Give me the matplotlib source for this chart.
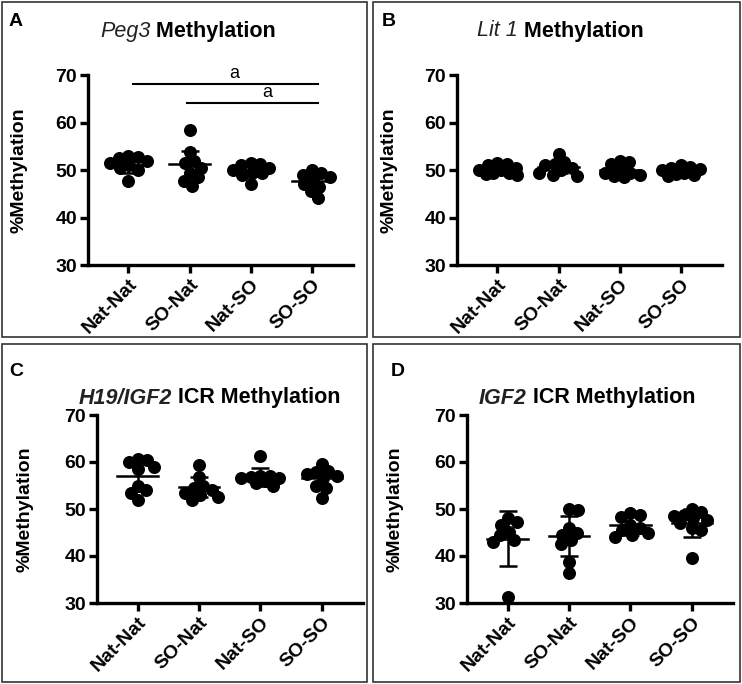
import numpy as np
import matplotlib
matplotlib.use("Agg")
import matplotlib.pyplot as plt
from matplotlib.patches import Rectangle
from matplotlib.offsetbox import TextArea, HPacker, AnchoredOffsetbox

plt.rcParams['font.family'] = ['Liberation Sans', 'DejaVu Sans']

groups = ["Nat-Nat", "SO-Nat", "Nat-SO", "SO-SO"]

# %Methylation per animal
peg3 = [
    [53.0, 52.8, 52.5, 52.0, 51.5, 51.0, 50.5, 50.0, 47.7],
    [58.5, 53.8, 52.0, 51.5, 50.5, 49.5, 48.5, 47.8, 46.7],
    [51.5, 51.2, 51.0, 50.5, 50.0, 49.5, 49.3, 49.0, 47.1],
    [50.0, 49.5, 49.0, 48.5, 48.0, 47.0, 46.5, 45.5, 44.2],
]
lit1 = [
    [51.5, 51.3, 51.0, 50.5, 50.0, 50.0, 49.5, 49.5, 49.2, 49.0],
    [53.5, 51.8, 51.3, 51.0, 50.5, 50.0, 49.5, 49.0, 48.8],
    [52.0, 51.7, 51.2, 50.0, 49.5, 49.5, 49.0, 48.7, 48.5],
    [51.0, 50.7, 50.5, 50.3, 50.0, 49.5, 49.2, 49.0, 48.8],
]
h19 = [
    [60.7, 60.5, 60.0, 59.0, 58.5, 55.0, 54.0, 53.5, 52.0],
    [59.3, 56.8, 55.0, 54.5, 54.0, 53.5, 53.0, 52.5, 52.0],
    [61.2, 57.0, 57.0, 56.8, 56.5, 56.5, 56.0, 55.5, 55.0],
    [59.5, 58.0, 57.8, 57.5, 57.0, 56.5, 55.0, 54.5, 52.3],
]
igf2 = [
    [48.0, 47.3, 46.5, 45.2, 44.5, 43.5, 43.0, 31.2],
    [50.0, 49.8, 46.0, 45.0, 44.5, 43.5, 42.5, 38.8, 36.3],
    [49.2, 48.7, 48.3, 46.5, 46.0, 45.5, 45.0, 44.5, 44.0],
    [50.0, 49.3, 48.8, 48.5, 48.0, 47.7, 47.0, 46.0, 45.5, 39.5],
]

# mean and SD as shown by the bars
peg3_mean = [51.0, 51.2, 50.0, 47.8]
peg3_sd = [1.5, 2.9, 1.2, 1.8]
lit1_mean = [50.5, 50.6, 50.0, 50.0]
lit1_sd = [0.8, 1.2, 1.2, 0.7]
h19_mean = [57.0, 54.7, 56.9, 56.5]
h19_sd = [3.2, 2.2, 1.9, 2.0]
igf2_mean = [43.7, 44.2, 46.5, 47.0]
igf2_sd = [5.8, 4.3, 2.0, 3.0]

W, H = 742, 684
fig = plt.figure(figsize=(W / 100, H / 100), dpi=100)


def px_rect(l, t, r, b):
    return [l / W, 1 - b / H, (r - l) / W, (b - t) / H]


def swarm(ax, x0, vals, dmin, cap=20.0):
    """ compact beeswarm: offsets within +-cap px, dots ideally dmin px apart """
    pts = [ax.transData.transform((x0, v)) for v in vals]
    order = np.argsort([-p[1] for p in pts])
    cands = np.arange(0, cap + 0.25, 0.5)
    cands = np.concatenate([[0.0], np.ravel(np.column_stack([cands[1:], -cands[1:]]))])
    placed = []
    xs = np.zeros(len(vals))
    for k in order:
        y = pts[k][1]
        best, best_d = 0.0, -1.0
        for dx in cands:
            d = min([np.hypot(dx - px, y - py) for px, py in placed] or [1e9])
            if d >= dmin:
                best = dx
                break
            if d > best_d:
                best, best_d = dx, d
        placed.append((best, y))
        xs[k] = ax.transData.inverted().transform((pts[k][0] + best, y))[0]
    return xs


def panel(rect, box, data, mean, sd, label, lab_xy, gene, icr, title_xy, ylab_x):
    bl, bt, br, bb = box
    fig.add_artist(Rectangle((bl / W, 1 - bb / H), (br - bl) / W, (bb - bt) / H,
                             transform=fig.transFigure, fill=False,
                             edgecolor="#333333", linewidth=1.2))
    fig.text(lab_xy[0] / W, 1 - lab_xy[1] / H, label, fontsize=14, fontweight="bold",
             ha="center", va="center")
    parts = [TextArea(gene, textprops=dict(fontsize=15.5, fontstyle="italic",
                                           fontweight="bold" if icr else "normal",
                                           color="#222222")),
             TextArea(" ICR Methylation" if icr else " Methylation",
                      textprops=dict(fontsize=15.5, fontweight="bold"))]
    box_t = HPacker(children=parts, align="baseline", pad=0, sep=0)
    fig.add_artist(AnchoredOffsetbox(loc="center", child=box_t, pad=0, borderpad=0,
                                     frameon=False,
                                     bbox_to_anchor=(title_xy[0] / W, 1 - title_xy[1] / H),
                                     bbox_transform=fig.transFigure))

    ax = fig.add_axes(px_rect(*rect))
    ax.set_xlim(-0.66, 3.67)
    ax.set_ylim(30, 70)
    for s in ["top", "right"]:
        ax.spines[s].set_visible(False)
    for s in ["left", "bottom"]:
        ax.spines[s].set_linewidth(2.4)
    ax.set_yticks([30, 40, 50, 60, 70])
    ax.set_xticks(range(len(groups)))
    ax.set_xticklabels(groups, rotation=45, ha="right", rotation_mode="anchor",
                       fontsize=13.5, fontweight="bold")
    ax.tick_params(axis="both", width=2.4, length=6, labelsize=14, pad=2)
    for t in ax.get_yticklabels():
        t.set_fontweight("bold")
    ax.set_ylabel("%Methylation", fontsize=14, fontweight="bold")
    ax.yaxis.set_label_coords((ylab_x - rect[0]) / (rect[2] - rect[0]), 0.5)

    for i, vals in enumerate(data):
        xs = swarm(ax, i, vals, 9.5)
        ax.scatter(xs, vals, s=88, color="black", zorder=3, linewidths=0)
        ax.plot([i - 0.33, i + 0.33], [mean[i]] * 2, color="black", lw=1.8, zorder=4)
        ax.errorbar([i], [mean[i]], yerr=[sd[i]], fmt="none", ecolor="black",
                    elinewidth=1.8, capsize=6.5, capthick=1.8, zorder=4)
    return ax


axA = panel((88, 75.3, 353, 265), (2, 2, 367, 337), peg3, peg3_mean, peg3_sd,
            "A", (16, 21), "Peg3", False, (188, 31), 28)
panel((457, 75.3, 722, 265), (373, 2, 740, 337), lit1, lit1_mean, lit1_sd,
      "B", (389, 21), "Lit 1", False, (560, 31), 398)
panel((97, 415, 363, 603), (2, 344, 367, 682), h19, h19_mean, h19_sd,
      "C", (16, 372), "H19/IGF2", True, (210, 398), 34)
panel((467, 415, 733, 603), (373, 344, 740, 682), igf2, igf2_mean, igf2_sd,
      "D", (398, 372), "IGF2", True, (587, 398), 404)

# significance bars in panel A
sig = [(0.08, 3.1, 68.1, 1.73), (0.95, 3.1, 64.1, 2.27)]
for x0, x1, y, xt in sig:
    axA.plot([x0, x1], [y, y], color="black", lw=1.5, clip_on=False)
    axA.text(xt, y + 0.4, "a", ha="center", va="bottom", fontsize=13)

fig.savefig("out.png", dpi=100)
